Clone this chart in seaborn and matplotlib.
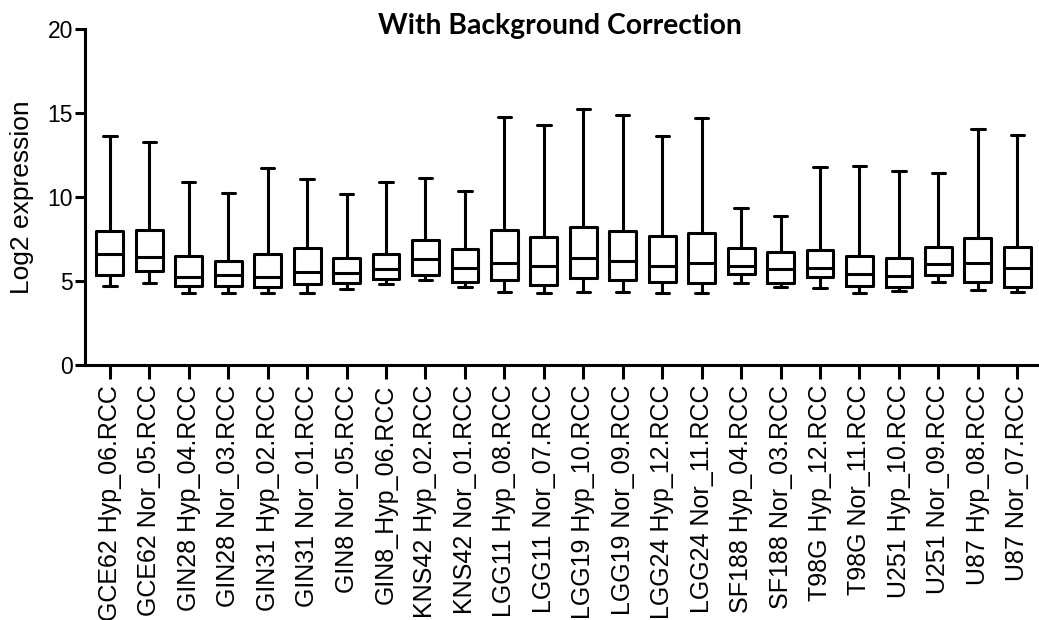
import matplotlib
matplotlib.use("Agg")
import matplotlib.pyplot as plt
import seaborn as sns
import pandas as pd

samples = ["GCE62 Hyp_06.RCC", "GCE62 Nor_05.RCC", "GIN28 Hyp_04.RCC", "GIN28 Nor_03.RCC",
           "GIN31 Hyp_02.RCC", "GIN31 Nor_01.RCC", "GIN8 Nor_05.RCC", "GIN8_Hyp_06.RCC",
           "KNS42 Hyp_02.RCC", "KNS42 Nor_01.RCC", "LGG11 Hyp_08.RCC", "LGG11 Nor_07.RCC",
           "LGG19 Hyp_10.RCC", "LGG19 Nor_09.RCC", "LGG24 Hyp_12.RCC", "LGG24 Nor_11.RCC",
           "SF188 Hyp_04.RCC", "SF188 Nor_03.RCC", "T98G Hyp_12.RCC", "T98G Nor_11.RCC",
           "U251 Hyp_10.RCC", "U251 Nor_09.RCC", "U87 Hyp_08.RCC", "U87 Nor_07.RCC"]

whisker_low = [4.74, 4.88, 4.32, 4.32, 4.32, 4.32, 4.54, 4.84, 5.08, 4.68, 4.34, 4.30,
               4.34, 4.36, 4.32, 4.32, 4.92, 4.64, 4.62, 4.32, 4.44, 4.98, 4.48, 4.36]
q1 = [5.37, 5.61, 4.72, 4.72, 4.64, 4.84, 4.90, 5.12, 5.37, 4.96, 5.08, 4.78,
      5.18, 5.08, 4.98, 4.92, 5.43, 4.92, 5.24, 4.74, 4.64, 5.37, 4.98, 4.68]
median = [6.60, 6.43, 5.27, 5.36, 5.27, 5.53, 5.51, 5.75, 6.31, 5.81, 6.07, 5.93,
          6.41, 6.19, 5.93, 6.07, 5.93, 5.71, 5.81, 5.42, 5.32, 6.03, 6.07, 5.81]
q3 = [8.00, 8.03, 6.52, 6.19, 6.60, 6.96, 6.41, 6.60, 7.44, 6.92, 8.05, 7.64,
      8.25, 7.98, 7.70, 7.86, 6.96, 6.74, 6.88, 6.51, 6.37, 7.04, 7.60, 7.04]
whisker_high = [13.65, 13.29, 10.91, 10.27, 11.72, 11.09, 10.20, 10.91, 11.13, 10.39, 14.78, 14.29,
                15.27, 14.86, 13.61, 14.68, 9.36, 8.90, 11.82, 11.84, 11.58, 11.46, 14.07, 13.67]

title = "With Background Correction"
ylabel = "Log2 expression"
yticks = [0, 5, 10, 15, 20]

rows = []
for i, s in enumerate(samples):
    for v in (whisker_low[i], q1[i], median[i], q3[i], whisker_high[i]):
        rows.append({"sample": s, "value": v})
df = pd.DataFrame(rows)

sns.set_style("ticks")
plt.rcParams["font.family"] = ["Liberation Sans", "DejaVu Sans"]
plt.rcParams["text.color"] = "black"
plt.rcParams["axes.labelcolor"] = "black"
plt.rcParams["xtick.color"] = "black"
plt.rcParams["ytick.color"] = "black"

fig = plt.figure(figsize=(10.39, 6.2), dpi=100)
ax = fig.add_axes([0.0818, 0.4108, 0.9182, 0.5424])

lw = 2.2
sns.boxplot(data=df, x="sample", y="value", order=samples, whis=(0, 100),
            fill=False, color="black", linecolor="black", linewidth=lw,
            width=0.68, showfliers=False, ax=ax,
            medianprops=dict(color="black", linewidth=lw))

ax.set_ylim(0, 20)
ax.set_xlim(-0.63, 23.55)
ax.set_yticks(yticks)
ax.set_yticklabels([str(t) for t in yticks], fontsize=16.5)
ax.set_xticks(range(len(samples)))
ax.set_xticklabels(samples, rotation=90, fontsize=18, va="top", ha="center")
ax.tick_params(axis="x", length=10, width=lw, pad=4, color="black", labelcolor="black")
ax.tick_params(axis="y", length=7.5, width=lw, pad=1, color="black", labelcolor="black")
ax.set_xlabel("")
ax.set_ylabel(ylabel, fontsize=19, color="black")
ax.yaxis.set_label_coords(-0.053, 0.5)

for side in ["top", "right"]:
    ax.spines[side].set_visible(False)
for side in ["left", "bottom"]:
    ax.spines[side].set_linewidth(lw)
    ax.spines[side].set_color("black")

fig.text(0.539, 0.945, title, ha="center", va="baseline", fontsize=20.3,
         fontweight="bold", color="black", family=["Lato", "DejaVu Sans"])

fig.savefig("out.png", dpi=100, facecolor="white")
